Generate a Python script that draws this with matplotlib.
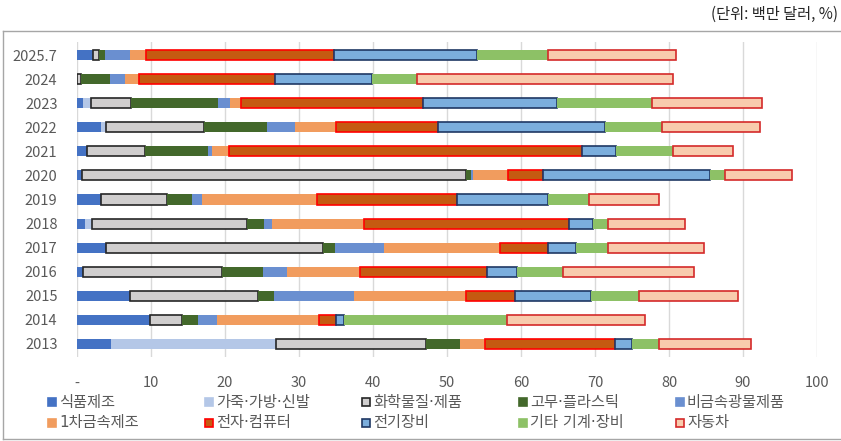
import numpy as np
import matplotlib.pyplot as plt
from matplotlib.patches import Rectangle
from matplotlib.lines import Line2D

plt.rcParams['font.family'] = ['Noto Sans CJK KR', 'DejaVu Sans']

years = ["2025.7", "2024", "2023", "2022", "2021", "2020", "2019",
         "2018", "2017", "2016", "2015", "2014", "2013"]

food = [2.1, 0.0, 0.8, 3.2, 1.4, 0.7, 3.3, 1.1, 3.9, 0.8, 7.2, 9.8, 4.55]
leather = [0.0, 0.0, 1.05, 0.76, 0.0, 0.0, 0.0, 0.9, 0.0, 0.0, 0.0, 0.0, 22.35]
chemical = [0.9, 0.5, 5.45, 13.14, 7.8, 51.9, 8.8, 21.0, 29.4, 18.8, 17.3, 4.4, 20.3]
rubber = [0.8, 4.0, 11.7, 8.6, 8.5, 0.7, 3.4, 2.3, 1.5, 5.5, 2.1, 2.2, 4.6]
nonmetal = [3.3, 2.0, 1.7, 3.8, 0.5, 0.2, 1.4, 1.0, 6.7, 3.3, 10.8, 2.5, 0.0]
metal = [2.2, 1.9, 1.5, 5.5, 2.3, 4.7, 15.5, 12.5, 15.6, 9.9, 15.1, 13.8, 3.4]
electronics = [25.4, 18.3, 24.6, 13.8, 47.8, 4.8, 19.0, 27.7, 6.6, 17.1, 6.7, 2.3, 17.5]
electrical = [19.4, 13.2, 18.0, 22.5, 4.6, 22.5, 12.3, 3.2, 3.7, 4.1, 10.2, 1.1, 2.3]
machinery = [9.6, 6.0, 12.9, 7.8, 7.7, 2.0, 5.5, 2.1, 4.4, 6.2, 6.6, 22.0, 3.7]
auto = [17.2, 34.7, 14.8, 13.2, 8.0, 9.1, 9.5, 10.4, 12.9, 17.7, 13.3, 18.6, 12.4]

names = ["식품제조", "가죽·가방·신발", "화학물질·제품", "고무·플라스틱", "비금속광물제품",
         "1차금속제조", "전자·컴퓨터", "전기장비", "기타 기계·장비", "자동차"]
series = [food, leather, chemical, rubber, nonmetal, metal, electronics,
          electrical, machinery, auto]
fills = ["#4472C4", "#B4C7E7", "#D0CECE", "#43682B", "#6A8FD0",
         "#F19C5E", "#C55A11", "#7BAEDD", "#8DC166", "#F8CBAD"]
edges = [None, None, "#262626", None, None,
         None, "#FF0000", "#1F3864", None, "#D42A2A"]

fig = plt.figure(figsize=(8.41, 4.41), dpi=100)
ax = fig.add_axes([77 / 841, 1 - 357 / 441, 740 / 841, 315 / 441])

y = np.arange(len(years))
left = np.zeros(len(years))
for vals, fc, ec in zip(series, fills, edges):
    vals = np.array(vals)
    if ec is None:
        ax.barh(y, vals, left=left, height=0.42, color=fc, linewidth=0, zorder=3)
    else:
        ax.barh(y, vals, left=left, height=0.42, color=fc, edgecolor=ec,
                linewidth=1.2, zorder=3)
    left += vals

ax.set_xlim(0, 100)
ax.set_ylim(len(years) - 0.46, -0.54)
ax.set_yticks(y)
ax.set_yticklabels(years)
ax.set_xticks(np.arange(0, 101, 10))
ax.set_xticklabels(["-"] + [str(v) for v in range(10, 101, 10)])
ax.tick_params(length=0, labelsize=10.5, colors="#595959")
ax.tick_params(axis="x", pad=14)
ax.tick_params(axis="y", pad=14)
ax.grid(axis="x", color="#D9D9D9", linewidth=1, zorder=0)
for s in ax.spines.values():
    s.set_visible(False)

# legend, Excel style equal-width columns
# DejaVu first so the middle dot stays narrow, Hangul falls back to Noto CJK
legend_font = ['DejaVu Sans', 'Noto Sans CJK KR']
for i, (nm, fc, ec) in enumerate(zip(names, fills, edges)):
    col, row = i % 5, i // 5
    x0 = (48 + col * 157) / 841
    y0 = 1 - (402 + row * 21) / 441
    fig.patches.append(Rectangle((x0, y0 - 4 / 441), 8 / 841, 8 / 441,
                                 transform=fig.transFigure, facecolor=fc,
                                 edgecolor=ec if ec else fc, linewidth=1.2))
    fig.text(x0 + 11 / 841, y0, nm, fontsize=11, color="#595959", va="center",
             family=legend_font)

fig.text(838 / 841, 1 - 14 / 441, "(단위: 백만 달러, %)", fontsize=11,
         color="#262626", ha="right", va="center")

# outer frame
fc = "#A6A6A6"
fig.add_artist(Line2D([3 / 841, 1], [1 - 31 / 441, 1 - 31 / 441], color=fc, lw=1,
                      transform=fig.transFigure))
fig.add_artist(Line2D([3 / 841, 3 / 841], [1 - 31 / 441, 1 - 439 / 441], color=fc, lw=1,
                      transform=fig.transFigure))
fig.add_artist(Line2D([3 / 841, 1], [1 - 439 / 441, 1 - 439 / 441], color=fc, lw=1,
                      transform=fig.transFigure))

fig.savefig("out.png", dpi=100)
